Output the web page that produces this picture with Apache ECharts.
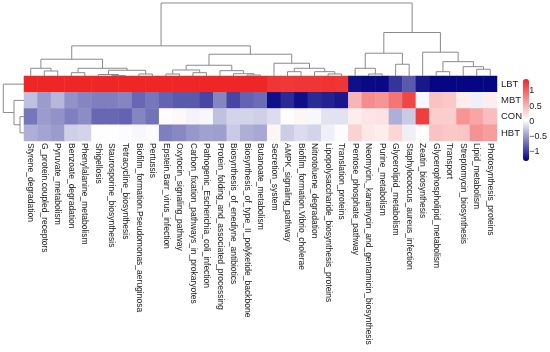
<!DOCTYPE html>
<html><head><meta charset="utf-8">
<script src="https://cdn.jsdelivr.net/npm/echarts@6/dist/echarts.min.js"></script>
<style>html,body{margin:0;padding:0;background:#fff}#c{width:550px;height:352px}</style>
</head><body><div id="c"></div>
<script>
const pathways = [
  'Styrene_degradation','G_protein.coupled_receptors','Pyruvate_metabolism','Benzoate_degradation',
  'Phenylalanine_metabolism','Shigellosis','Staurosporine_biosynthesis','Tetracycline_biosynthesis',
  'Biofilm_formation.Pseudomonas_aeruginosa','Pertussis','Epstein.Barr_virus_infection','Oxytocin_signaling_pathway',
  'Carbon_fixation_pathways_in_prokaryotes','Pathogenic_Escherichia_coli_infection','Protein_folding_and_associated_processing',
  'Biosynthesis_of_enediyne_antibiotics','Biosynthesis_of_type_II_polyketide_backbone','Butanoate_metabolism',
  'Secretion_system','AMPK_signaling_pathway','Biofilm_formation.Vibrio_cholerae','Nitrotoluene_degradation',
  'Lipopolysaccharide_biosynthesis_proteins','Translation_proteins','Pentose_phosphate_pathway',
  'Neomycin,_kanamycin_and_gentamicin_biosynthesis','Purine_metabolism','Glycerolipid_metabolism',
  'Staphylococcus_aureus_infection','Zeatin_biosynthesis','Glycerophospholipid_metabolism','Transport',
  'Streptomycin_biosynthesis','Lipid_metabolism','Photosynthesis_proteins'
];
const samples = ['LBT','MBT','CON','HBT'];
const LBT = [1.40,1.45,1.40,1.42,1.40,1.40,1.40,1.40,1.40,1.40,1.40,1.40,1.42,1.42,1.40,1.40,1.40,1.40,
             1.30,1.28,1.30,1.30,1.32,1.30,
             -1.25,-1.28,-1.28,-1.05,-0.85,-1.20,-1.30,-1.30,-1.30,-1.30,-1.30];
const MBT = [-0.30,-0.50,-0.35,-0.55,-0.62,-0.65,-0.65,-0.62,-0.78,-0.70,-0.80,-0.85,-0.85,-0.95,-0.62,-0.95,-0.80,-0.75,
             -1.25,-1.10,-1.25,-1.10,-1.15,-1.20,
             0.50,0.75,0.70,0.90,1.20,0.00,0.42,0.38,0.15,-0.05,0.15];
const CON = [-0.70,-0.50,-0.55,-0.65,-0.58,-0.78,-0.78,-0.80,-0.62,-0.72,0.05,0.08,-0.03,0.00,-0.30,-0.20,-0.20,-0.22,
             -0.15,0.05,0.10,0.00,-0.12,-0.12,
             0.15,0.20,0.22,-0.40,-0.25,1.25,0.35,0.35,0.70,0.60,0.45];
const HBT = [-0.40,-0.45,-0.50,-0.22,-0.20,0.03,0.03,0.02,0.00,0.02,-0.65,-0.60,-0.52,-0.47,-0.48,-0.25,-0.40,-0.43,
             0.10,-0.23,-0.15,-0.20,-0.05,0.02,
             0.32,0.18,0.15,0.30,-0.05,0.05,0.42,0.38,0.40,0.72,0.65];
const legendTicks = [-1, -0.5, 0, 0.5, 1];
const colorMin = -1.33, colorMax = 1.40;

// column clustering: [left, right, mergeHeight], leaves are column indexes
const colTree = [
  [
    [[0, [1, 2, 0.5], 0.77],
     [[3, 4, 0.33], [[5, [6, 7, 0.05], 0.15], [8, 9, 0.2], 0.57], 0.77], 1.67],
    [[[[10, 11, 0.2], [12, 13, 0.33], 0.6], [14, [15, [16, 17, 0.1], 0.23], 0.53], 1.07],
     [18, [[19, 20, 0.43], [21, [22, 23, 0.2], 0.43], 0.77], 1.27], 2.17],
    3.0
  ],
  [
    [[24, [25, 26, 0.2], 0.77], [27, 28, 1.17], 2.27],
    [29, [[30, 31, 0.43], [32, [33, 34, 0.67], 0.93], 1.43], 2.37],
    4.33
  ],
  7.27
];
// row clustering
const rowTree = [0, [1, [2, 3, 0.4], 1.0], 2.07];

function segments(tree) {
  const out = [];
  (function walk(n) {
    if (typeof n === 'number') return { x: n + 0.5, h: 0 };
    const l = walk(n[0]), r = walk(n[1]);
    out.push([l.x, l.h, r.x, r.h, n[2]]);
    return { x: (l.x + r.x) / 2, h: n[2] };
  })(tree);
  return out;
}

const rows = [LBT, MBT, CON, HBT];
const heatData = [];
rows.forEach((arr, r) => arr.forEach((v, c) => heatData.push([c, r, v])));

const lineStyle = { stroke: '#8a8a8a', lineWidth: 1, fill: null };
const FONT = 'Liberation Sans';

const chart = echarts.init(document.getElementById('c'), null, { renderer: 'canvas' });
chart.setOption({
  backgroundColor: '#fff',
  animation: false,
  textStyle: { fontFamily: FONT },
  grid: [
    { left: 24, top: 76, width: 473, height: 65 },
    { left: 24, top: 3, width: 473, height: 73 },
    { left: 3, top: 76, width: 21, height: 65 },
    { left: 523, top: 79, width: 6, height: 82 }
  ],
  xAxis: [
    { type: 'category', gridIndex: 0, data: pathways,
      axisLine: { show: false }, axisTick: { show: false }, splitLine: { show: false },
      axisLabel: { interval: 0, rotate: -90, fontSize: 8.5, margin: 2, color: '#1a1a1a', fontFamily: FONT } },
    { type: 'value', gridIndex: 1, min: 0, max: pathways.length, show: false },
    { type: 'value', gridIndex: 2, min: 0, max: 2.1, inverse: true, show: false },
    { type: 'value', gridIndex: 3, min: 0, max: 1, show: false }
  ],
  yAxis: [
    { type: 'category', gridIndex: 0, data: samples, inverse: true, position: 'right',
      axisLine: { show: false }, axisTick: { show: false }, splitLine: { show: false },
      axisLabel: { fontSize: 9.5, margin: 4, color: '#1a1a1a', fontFamily: FONT } },
    { type: 'value', gridIndex: 1, min: 0, max: 7.27, show: false },
    { type: 'value', gridIndex: 2, min: 0, max: samples.length, inverse: true, show: false },
    { type: 'value', gridIndex: 3, min: colorMin, max: colorMax, position: 'right',
      axisLine: { show: false }, axisTick: { show: false }, splitLine: { show: false },
      axisLabel: { customValues: legendTicks, fontSize: 9, margin: 4, color: '#1a1a1a', fontFamily: FONT,
        formatter: v => (v < 0 ? '\u2212' + Math.abs(v) : String(v)) } }
  ],
  visualMap: {
    type: 'continuous', seriesIndex: 0, min: colorMin, max: colorMax,
    inRange: { color: ['#000080', '#ffffff', '#EE2626'] },
    left: 523, top: 79, itemWidth: 6, itemHeight: 82, padding: 0,
    calculable: false, orient: 'vertical', text: null, hoverLink: false
  },
  series: [
    { type: 'heatmap', xAxisIndex: 0, yAxisIndex: 0, data: heatData,
      itemStyle: { borderWidth: 0 }, emphasis: { disabled: true } },
    { type: 'custom', xAxisIndex: 1, yAxisIndex: 1, data: segments(colTree), silent: true,
      encode: { x: [0, 2], y: [1, 3, 4] },
      renderItem: (p, api) => ({
        type: 'polyline',
        shape: { points: [
          api.coord([api.value(0), api.value(1)]), api.coord([api.value(0), api.value(4)]),
          api.coord([api.value(2), api.value(4)]), api.coord([api.value(2), api.value(3)]) ] },
        style: lineStyle })
    },
    { type: 'custom', xAxisIndex: 2, yAxisIndex: 2, data: segments(rowTree), silent: true,
      encode: { y: [0, 2], x: [1, 3, 4] },
      renderItem: (p, api) => ({
        type: 'polyline',
        shape: { points: [
          api.coord([api.value(1), api.value(0)]), api.coord([api.value(4), api.value(0)]),
          api.coord([api.value(4), api.value(2)]), api.coord([api.value(3), api.value(2)]) ] },
        style: lineStyle })
    }
  ]
});
</script></body></html>
